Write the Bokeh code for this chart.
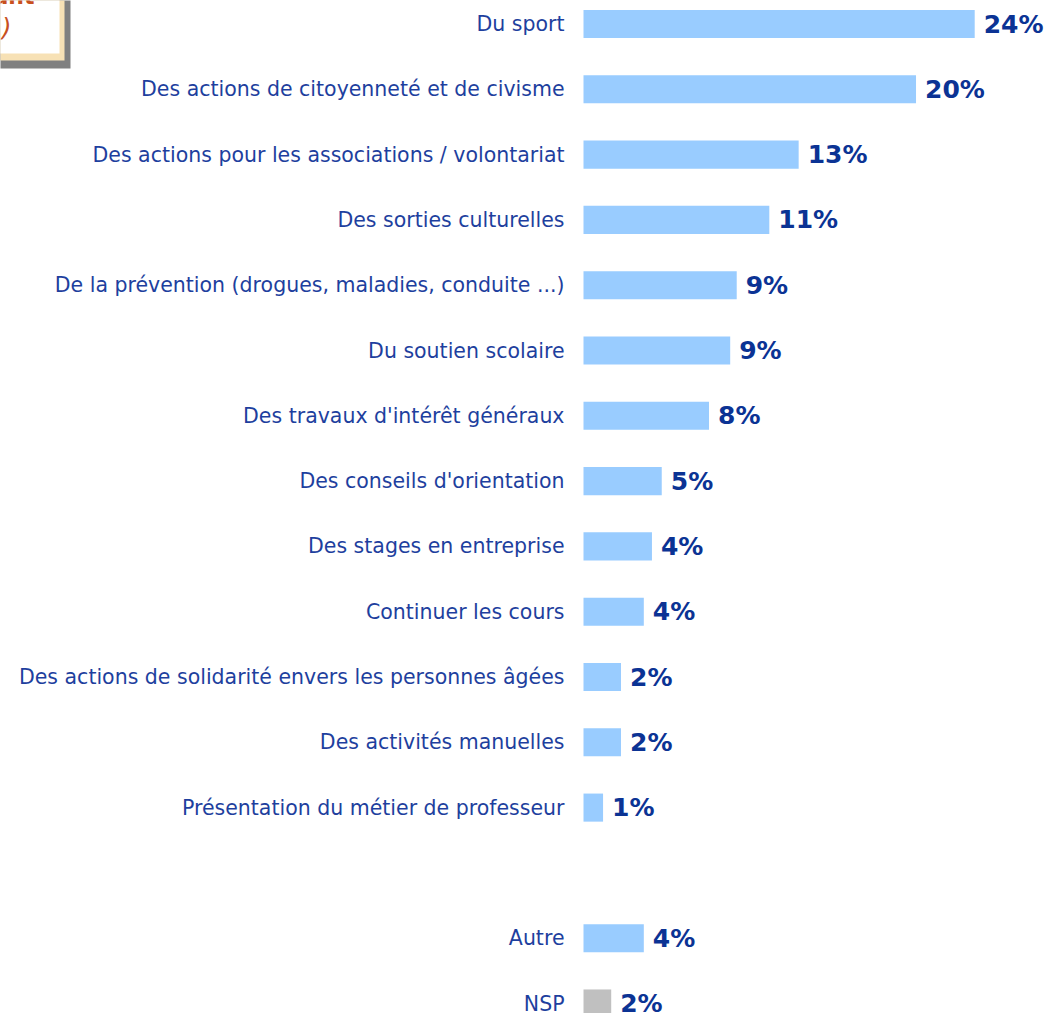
from bokeh.plotting import figure
from bokeh.models import ColumnDataSource, Range1d
from bokeh.core.properties import value
from bokeh.embed import file_html
from bokeh.resources import INLINE

# ---- data ----
categories = [
    "Du sport",
    "Des actions de citoyenneté et de civisme",
    "Des actions pour les associations / volontariat",
    "Des sorties culturelles",
    "De la prévention (drogues, maladies, conduite ...)",
    "Du soutien scolaire",
    "Des travaux d'intérêt généraux",
    "Des conseils d'orientation",
    "Des stages en entreprise",
    "Continuer les cours",
    "Des actions de solidarité envers les personnes âgées",
    "Des activités manuelles",
    "Présentation du métier de professeur",
    "Autre",
    "NSP",
]
values = [24.0, 20.4, 13.2, 11.4, 9.4, 9.0, 7.7, 4.8, 4.2, 3.7, 2.3, 2.3, 1.2, 3.7, 1.7]
value_labels = ["24%", "20%", "13%", "11%", "9%", "9%", "8%", "5%", "4%", "4%",
                "2%", "2%", "1%", "4%", "2%"]
row_index = list(range(13)) + [14, 15]

# ---- geometry ----
W, H = 1046, 1013
S = 16.3          # px per percent
ROW = 65.3        # px per row
BAR_X0 = 583      # px where bars start
ROW0 = 23.5       # px of first row centre
x_start = -BAR_X0 / S
x_end = (W - BAR_X0) / S
y_top = -ROW0 / ROW
y_bottom = (H - ROW0) / ROW

def X(px):
    return x_start + px / S

def Y(py):
    return y_top + py / ROW

colors = ["#C0C0C0" if c == "NSP" else "#99CCFF" for c in categories]
src = ColumnDataSource(dict(
    cat=categories, val=values, lab=value_labels, pos=row_index, color=colors,
    lx=[v + 9 / S for v in values],
    cx=[-19 / S] * len(values),
))

p = figure(width=W, height=H, x_range=Range1d(x_start, x_end),
           y_range=Range1d(y_bottom, y_top),
           output_backend="svg", toolbar_location=None, min_border=0,
           x_axis_location=None, y_axis_location=None)
p.grid.visible = False
p.outline_line_color = None
p.background_fill_color = "white"
p.border_fill_color = "white"

# decorative box (top-left, partially cut)
p.quad(left=[X(-30)], right=[X(70)], top=[Y(-30)], bottom=[Y(68)],
       fill_color="#808080", line_color=None)
p.quad(left=[X(-30)], right=[X(64)], top=[Y(-30)], bottom=[Y(60)],
       fill_color="#F7E1B5", line_color=None)
p.quad(left=[X(-30)], right=[X(59)], top=[Y(-30)], bottom=[Y(53)],
       fill_color="white", line_color=None)
p.text(x=[X(34)], y=[Y(-4)], text=["Avant"], text_align="right",
       text_baseline="alphabetic", text_color="#C8501E",
       text_font=value("DejaVu Sans"), text_font_style="bold",
       text_font_size="22px")
p.text(x=[X(11)], y=[Y(27)], text=["(en %)"], text_align="right",
       text_baseline="middle", text_color="#C8501E",
       text_font=value("DejaVu Sans"), text_font_style="italic",
       text_font_size="25px")

# bars
p.hbar(y="pos", left=0, right="val", height=0.43, fill_color="color",
       line_color=None, source=src)

# category labels
p.text(x="cx", y="pos", text="cat", source=src, text_align="right",
       text_baseline="middle", text_color="#1E3F9E",
       text_font=value("DejaVu Sans"), text_font_size="20.5px")

# value labels
p.text(x="lx", y="pos", text="lab", source=src, text_align="left",
       text_baseline="middle", text_color="#0B3394",
       text_font=value("DejaVu Sans"), text_font_style="bold",
       text_font_size="25px")

open("out.html", "w").write(file_html(p, INLINE))
